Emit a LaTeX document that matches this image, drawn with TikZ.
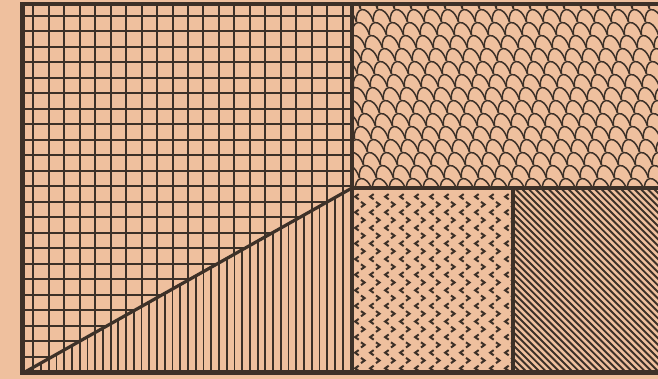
\documentclass[tikz,border=0pt]{standalone}
\definecolor{paper}{HTML}{EFC09E}
\definecolor{ink}{HTML}{3D3128}
\begin{document}
\begin{tikzpicture}[x=1pt,y=-1pt,line cap=butt,
  frame/.style={ink,line width=4.5pt},
  gridline/.style={ink,line width=2pt},
  thinline/.style={ink,line width=1.8pt},
  scaleline/.style={ink,line width=1.5pt,line join=round},
  chev/.style={ink,line width=2pt,line join=miter},
  hatchline/.style={ink,line width=1.9pt}]
\useasboundingbox (0,0) rectangle (658,379);
\fill[paper] (0,0) rectangle (658,379);
\coordinate (tl) at (22.5,3.8);
\coordinate (bl) at (22.5,372.5);
\coordinate (tm) at (352,3.8);
\coordinate (bm) at (352,372.5);
\coordinate (mm) at (352,188);
\coordinate (mr) at (658,188);
\coordinate (tr) at (658,3.8);
\coordinate (br) at (658,372.5);
\coordinate (md) at (513,188);
\coordinate (bd) at (513,372.5);
% square grid
\begin{scope}
\clip (tl) rectangle (bm);
\foreach \i in {0,...,20} \draw[gridline] ({33.3+15.47*\i},0) -- ++(0,379);
\foreach \j in {0,...,22} \draw[gridline] (20,{16+15.49*\j}) -- ++(340,0);
\end{scope}
% triangle with vertical hatching
\fill[paper] (bl) -- (mm) -- (bm) -- cycle;
\begin{scope}
\clip (bl) -- (mm) -- (bm) -- cycle;
\foreach \i in {0,...,41} \draw[thinline] ({33.3+7.735*\i},180) -- ++(0,200);
\end{scope}
\draw[ink,line width=3.2pt] (25,372) -- (mm);
% scale pattern
\begin{scope}
\clip (tm) rectangle (mr);
\foreach \r in {0,...,15}{
  \foreach \c in {-6,...,19}{
    \pgfmathsetmacro{\xx}{352+17*\c+8.5*mod(\r,2)+4.5*\r}
    \pgfmathsetmacro{\yy}{9+13*\r}
    \draw[scaleline] (\xx-8.5,\yy) .. controls (\xx-10.5,\yy-14) and (\xx+2,\yy-19) .. (\xx+8.5,\yy);
  }
}
\end{scope}
% chevron dots
\begin{scope}
\clip (mm) rectangle (bd);
\foreach \r in {0,...,23}{
  \foreach \c in {-1,...,11}{
    \pgfmathsetmacro{\xx}{356.7+15*\c+6.3*mod(\r,2)}
    \pgfmathsetmacro{\yy}{196.7+7.8*\r}
    \ifodd\r
      \draw[chev] (\xx-2,\yy-2.6) -- (\xx+1.6,\yy) -- (\xx-2,\yy+2.6);
    \else
      \draw[chev] (\xx+2,\yy-2.6) -- (\xx-1.6,\yy) -- (\xx+2,\yy+2.6);
    \fi
  }
}
\end{scope}
% diagonal hatching
\begin{scope}
\clip (md) rectangle (br);
\foreach \k in {0,...,55} \draw[hatchline] ({513-190+6.6*\k},188) -- ++(190,190);
\end{scope}
% frame and dividers
\draw[frame] (tr) -- (tl) -- (bl) -- (br);
\draw[frame] (tm) -- (bm);
\draw[frame] (mm) -- (mr);
\draw[frame] (md) -- (bd);
\end{tikzpicture}
\end{document}
